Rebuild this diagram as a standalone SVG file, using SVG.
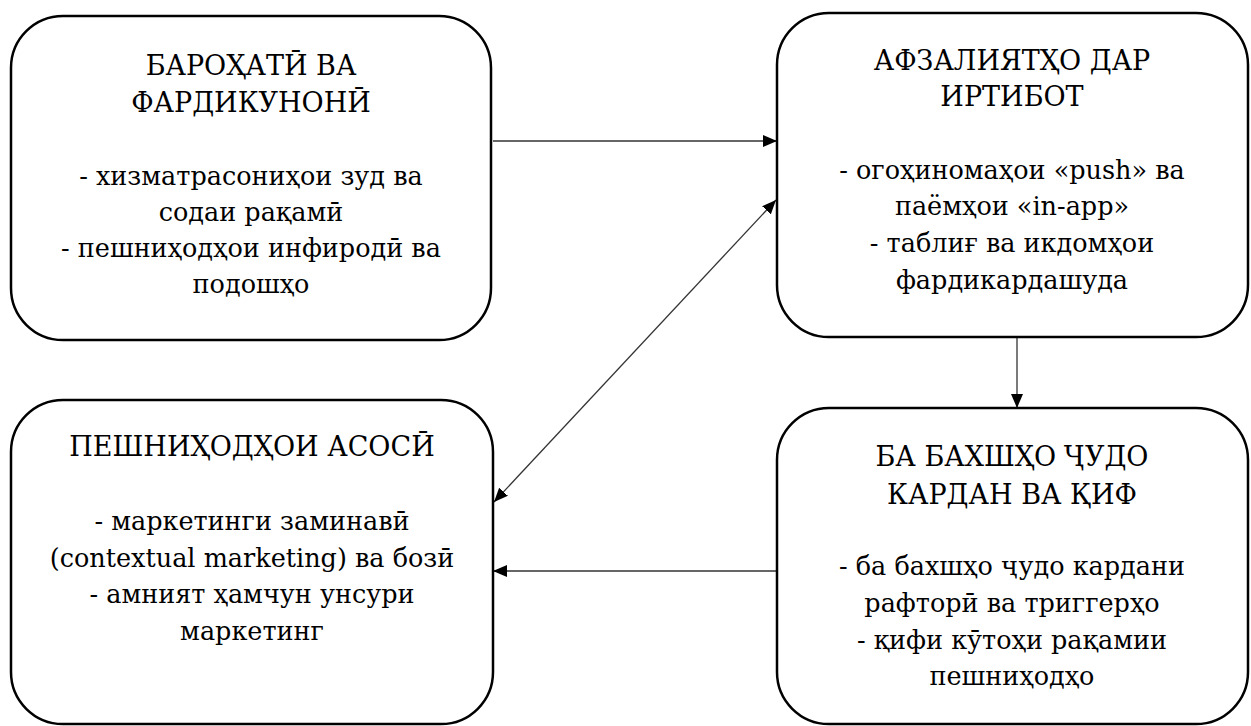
<svg xmlns="http://www.w3.org/2000/svg" width="1251" height="726" viewBox="0 0 1251 726">
<style>
.box{fill:#fff;stroke:#000;stroke-width:2.5}
.t{font-family:'DejaVu Serif',serif;font-size:25.5px;fill:#000;text-anchor:middle}
.h{font-size:27px}
.c{stroke:#333;stroke-width:1.3;fill:none}
</style>
<defs>
<marker id="ah" viewBox="0 0 14 12" refX="14" refY="6" markerWidth="14" markerHeight="12" markerUnits="userSpaceOnUse" orient="auto-start-reverse">
<path d="M0,0 L14,6 L0,12 Z" fill="#000"/>
</marker>
</defs>
<rect width="1251" height="726" fill="#fff"/>
<g id="connectors">
<line class="c" x1="493" y1="141" x2="777" y2="141" marker-end="url(#ah)"/>
<line class="c" x1="494" y1="502" x2="776" y2="200" marker-start="url(#ah)" marker-end="url(#ah)"/>
<line class="c" x1="1017" y1="337" x2="1017" y2="408" marker-end="url(#ah)"/>
<line class="c" x1="777" y1="571" x2="493" y2="571" marker-end="url(#ah)"/>
</g>
<g id="node1">
<rect class="box" x="11" y="16" width="480" height="324" rx="52"/>
<text class="t"><tspan class="h" x="251" y="75"><tspan>БАРОҲАТӢ</tspan> <tspan>ВА</tspan></tspan><tspan class="h" x="251" y="112">ФАРДИКУНОНӢ</tspan><tspan x="251" y="185"><tspan>- хизматрасониҳои</tspan> <tspan>зуд</tspan> <tspan>ва</tspan></tspan><tspan x="251" y="221"><tspan>содаи</tspan> <tspan>рақамӣ</tspan></tspan><tspan x="251" y="257"><tspan>- пешниҳодҳои</tspan> <tspan>инфиродӣ</tspan> <tspan>ва</tspan></tspan><tspan x="251" y="293">подошҳо</tspan></text>
</g>
<g id="node2">
<rect class="box" x="777" y="13" width="471" height="324" rx="52"/>
<text class="t"><tspan class="h" x="1012" y="70"><tspan>АФЗАЛИЯТҲО</tspan> <tspan>ДАР</tspan></tspan><tspan class="h" x="1012" y="106">ИРТИБОТ</tspan><tspan x="1012" y="179"><tspan>- огоҳиномаҳои</tspan> <tspan>«push»</tspan> <tspan>ва</tspan></tspan><tspan x="1012" y="215"><tspan>паёмҳои</tspan> <tspan>«in-app»</tspan></tspan><tspan x="1012" y="252"><tspan>- таблиғ</tspan> <tspan>ва</tspan> <tspan>икдомҳои</tspan></tspan><tspan x="1012" y="289">фардикардашуда</tspan></text>
</g>
<g id="node3">
<rect class="box" x="11" y="400" width="482" height="324" rx="52"/>
<text class="t"><tspan class="h" x="252" y="456"><tspan>ПЕШНИҲОДҲОИ</tspan> <tspan>АСОСӢ</tspan></tspan><tspan x="252" y="530"><tspan>- маркетинги</tspan> <tspan>заминавӣ</tspan></tspan><tspan x="252" y="567"><tspan>(contextual</tspan> <tspan>marketing)</tspan> <tspan>ва</tspan> <tspan>бозӣ</tspan></tspan><tspan x="252" y="603"><tspan>- амният</tspan> <tspan>ҳамчун</tspan> <tspan>унсури</tspan></tspan><tspan x="252" y="640">маркетинг</tspan></text>
</g>
<g id="node4">
<rect class="box" x="777" y="408" width="471" height="316" rx="52"/>
<text class="t"><tspan class="h" x="1012" y="466"><tspan>БА</tspan> <tspan>БАХШҲО</tspan> <tspan>ҶУДО</tspan></tspan><tspan class="h" x="1012" y="504"><tspan>КАРДАН</tspan> <tspan>ВА</tspan> <tspan>ҚИФ</tspan></tspan><tspan x="1012" y="575"><tspan>- ба</tspan> <tspan>бахшҳо</tspan> <tspan>ҷудо</tspan> <tspan>кардани</tspan></tspan><tspan x="1012" y="612"><tspan>рафторӣ</tspan> <tspan>ва</tspan> <tspan>триггерҳо</tspan></tspan><tspan x="1012" y="649"><tspan>- қифи</tspan> <tspan>кӯтоҳи</tspan> <tspan>рақамии</tspan></tspan><tspan x="1012" y="685">пешниҳодҳо</tspan></text>
</g>
</svg>
